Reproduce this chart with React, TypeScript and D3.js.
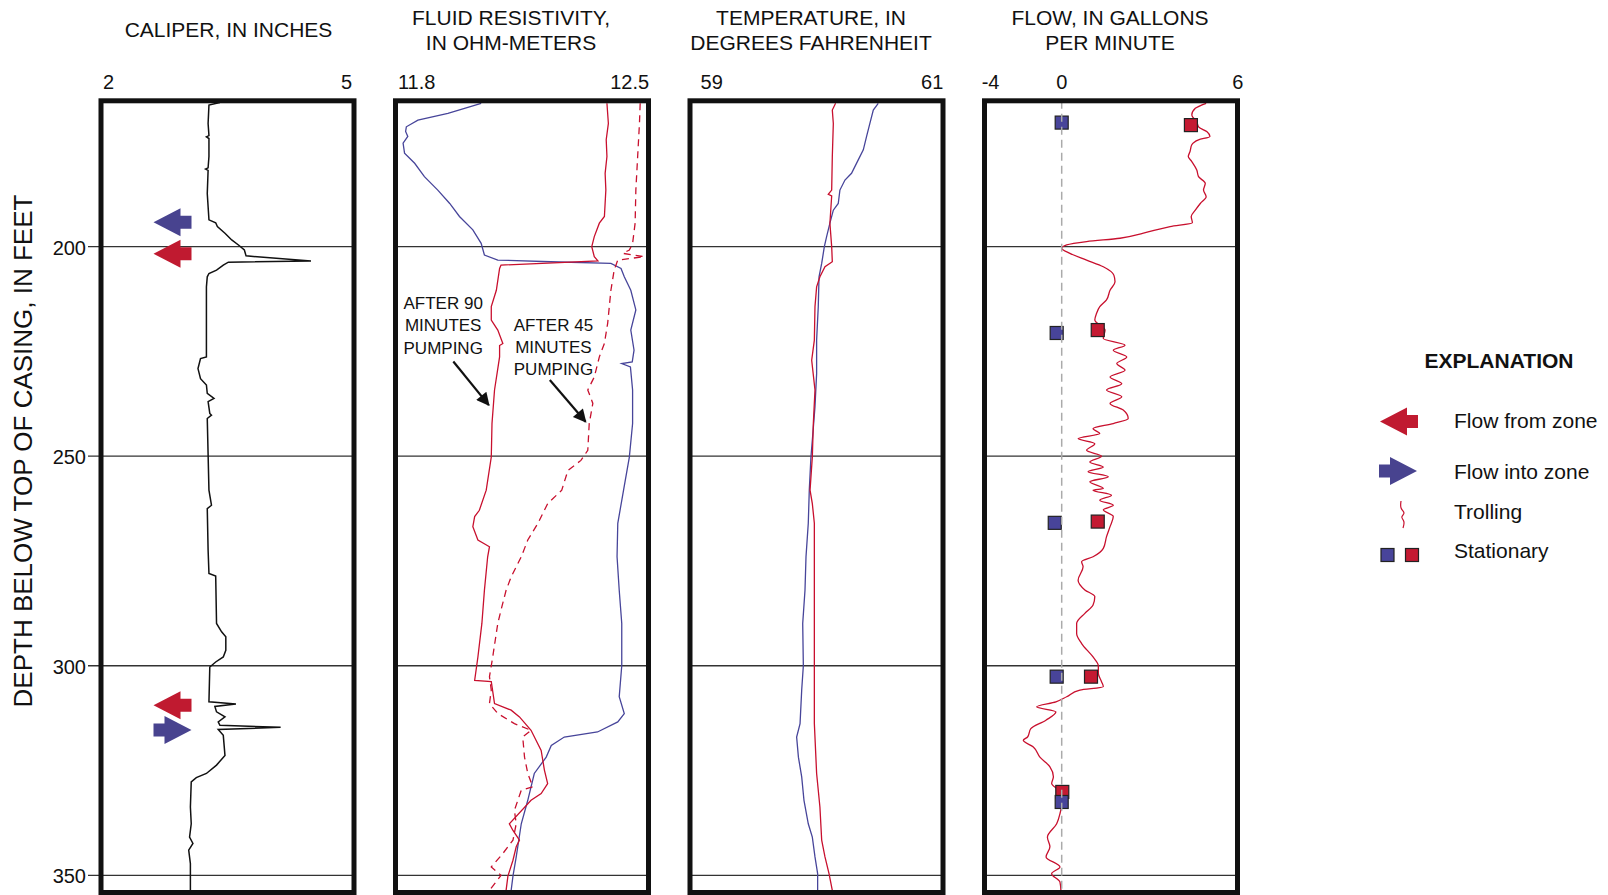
import React from 'react';
import * as d3 from 'd3';

const FONT = '"Liberation Sans", Arial, Helvetica, sans-serif';
const RED = '#c8102e';
const BLUE = '#47459a';
const INK = '#111';

// depth axis, in feet below top of casing
const depthDomain: [number, number] = [165.2, 354.1];
const depthTicks = [200, 250, 300, 350];

// [depth, inches]
const caliper: [number, number][] = [
	[165.6, 3.41], [166.2, 3.28], [170.6, 3.27], [173.5, 3.28], [173.8, 3.25], [174.2, 3.28],
	[178.5, 3.28], [181.2, 3.27], [181.5, 3.24], [181.8, 3.27], [187.3, 3.26], [193.6, 3.28],
	[194.3, 3.36], [195.2, 3.38], [196.8, 3.47], [198.4, 3.55], [199.6, 3.63], [200.8, 3.7],
	[202.2, 3.72], [203.4, 4.49], [203.7, 3.51], [204.4, 3.45], [205.6, 3.37], [206.4, 3.28],
	[207.2, 3.26], [209.6, 3.25], [226.3, 3.25], [226.7, 3.18], [229.1, 3.15], [231.5, 3.18],
	[233.0, 3.25], [235.0, 3.26], [236.2, 3.34], [237.0, 3.27], [239.8, 3.29], [240.2, 3.31],
	[241.0, 3.26], [258.1, 3.28], [261.7, 3.31], [262.5, 3.26], [272.4, 3.27], [278.0, 3.28],
	[278.6, 3.36], [289.9, 3.37], [291.9, 3.43], [293.1, 3.48], [296.3, 3.48], [297.9, 3.45],
	[299.1, 3.36], [300.3, 3.29], [308.6, 3.28], [309.1, 3.6], [309.7, 3.35], [311.0, 3.37],
	[312.2, 3.47], [313.4, 3.39], [314.2, 3.41], [314.7, 4.13], [315.2, 3.39], [316.6, 3.45],
	[321.4, 3.47], [323.7, 3.37], [325.7, 3.25], [326.7, 3.13], [327.7, 3.07], [333.7, 3.06],
	[337.7, 3.07], [340.9, 3.05], [342.4, 3.09], [344.0, 3.04], [347.2, 3.06], [353.6, 3.06],
];

// [depth, ohm-meters]
const resistivityAmbient: [number, number][] = [
	[165.8, 12.037], [168.2, 11.945], [169.8, 11.862], [171.4, 11.83], [172.5, 11.828],
	[173.7, 11.834], [175.3, 11.821], [177.7, 11.825], [180.1, 11.853], [183.3, 11.88],
	[186.5, 11.917], [189.7, 11.95], [192.8, 11.977], [196.0, 12.014], [199.2, 12.037],
	[202.0, 12.046], [203.2, 12.083], [203.6, 12.23], [204.0, 12.396], [205.2, 12.424],
	[207.2, 12.433], [210.4, 12.451], [215.1, 12.465], [219.9, 12.451], [224.7, 12.46],
	[227.5, 12.455], [227.9, 12.426], [228.7, 12.45], [234.2, 12.456], [242.2, 12.456],
	[250.2, 12.447], [258.1, 12.431], [266.0, 12.415], [274.0, 12.413], [282.0, 12.419],
	[289.9, 12.426], [300.0, 12.426], [307.4, 12.419], [311.4, 12.433], [313.4, 12.415],
	[315.8, 12.359], [317.0, 12.267], [319.0, 12.231], [321.8, 12.217], [325.7, 12.184],
	[332.1, 12.166], [337.7, 12.148], [345.6, 12.134], [350.2, 12.125], [353.6, 12.12],
];

const resistivity90: [number, number][] = [
	[165.8, 12.385], [170.6, 12.389], [174.5, 12.383], [178.5, 12.385], [182.5, 12.38],
	[186.5, 12.382], [192.8, 12.378], [194.4, 12.364], [197.6, 12.35], [200.0, 12.343],
	[202.4, 12.35], [203.4, 12.36], [204.4, 12.092], [205.2, 12.088], [210.4, 12.079],
	[214.3, 12.065], [217.5, 12.065], [219.9, 12.083], [223.1, 12.097], [223.6, 12.088],
	[226.3, 12.088], [234.2, 12.074], [242.2, 12.067], [250.2, 12.065], [258.1, 12.051],
	[262.9, 12.032], [264.4, 12.019], [266.8, 12.014], [270.0, 12.028], [271.6, 12.06],
	[274.0, 12.055], [282.0, 12.046], [289.9, 12.039], [297.9, 12.028], [303.5, 12.019],
	[303.8, 12.065], [309.0, 12.074], [310.6, 12.12], [312.2, 12.143], [315.4, 12.175],
	[320.2, 12.203], [324.9, 12.212], [328.1, 12.221], [330.5, 12.203], [332.1, 12.175],
	[337.7, 12.115], [339.3, 12.125], [341.6, 12.143], [343.2, 12.134], [346.4, 12.125],
	[350.2, 12.111], [353.6, 12.106],
];

const resistivity45: [number, number][] = [
	[165.8, 12.477], [170.6, 12.475], [178.5, 12.47], [186.5, 12.465], [194.4, 12.463],
	[199.2, 12.456], [200.8, 12.447], [201.6, 12.429], [202.4, 12.488], [203.2, 12.415],
	[205.6, 12.405], [210.4, 12.396], [218.3, 12.387], [223.1, 12.378], [226.3, 12.364],
	[231.1, 12.35], [234.2, 12.332], [237.4, 12.346], [242.2, 12.336], [248.6, 12.332],
	[251.0, 12.313], [253.4, 12.277], [258.1, 12.26], [261.3, 12.221], [266.0, 12.194],
	[270.0, 12.166], [274.0, 12.148], [278.8, 12.12], [282.0, 12.106], [286.7, 12.092],
	[289.9, 12.083], [297.9, 12.069], [302.6, 12.06], [305.8, 12.065], [309.0, 12.06],
	[311.4, 12.083], [313.8, 12.129], [315.4, 12.175], [317.0, 12.152], [321.8, 12.157],
	[325.7, 12.166], [328.9, 12.18], [329.7, 12.148], [334.5, 12.129], [337.7, 12.134],
	[341.6, 12.125], [344.8, 12.097], [348.0, 12.065], [350.0, 12.092], [353.6, 12.06],
];

// [depth, degrees F]
const temperatureAmbient: [number, number][] = [
	[165.8, 60.488], [167.4, 60.449], [170.6, 60.422], [173.7, 60.396], [176.9, 60.37],
	[179.3, 60.33], [182.5, 60.277], [184.1, 60.225], [186.5, 60.185], [189.7, 60.172],
	[191.3, 60.133], [194.4, 60.106], [197.6, 60.08], [200.0, 60.062], [204.0, 60.041],
	[207.2, 60.02], [214.3, 60.014], [222.3, 60.001], [230.3, 60.001], [238.2, 59.988],
	[246.2, 59.967], [250.2, 59.956], [258.1, 59.943], [266.0, 59.935], [274.0, 59.917],
	[282.0, 59.909], [289.9, 59.891], [300.0, 59.896], [305.8, 59.883], [313.8, 59.87],
	[317.0, 59.843], [321.8, 59.857], [326.5, 59.883], [332.1, 59.901], [337.7, 59.935],
	[340.9, 59.967], [345.6, 59.988], [349.6, 60.009], [353.6, 60.009],
];

const temperaturePumped: [number, number][] = [
	[165.8, 60.151], [167.4, 60.125], [170.6, 60.133], [178.5, 60.125], [186.5, 60.12],
	[187.5, 60.093], [187.9, 60.12], [194.4, 60.106], [200.0, 60.12], [203.6, 60.125],
	[204.8, 60.067], [207.2, 60.027], [209.6, 60.001], [214.3, 59.988], [222.3, 59.983],
	[227.1, 59.962], [234.2, 59.988], [242.2, 59.975], [250.2, 59.967], [258.1, 59.949],
	[261.3, 59.967], [266.0, 59.983], [282.0, 59.983], [300.0, 59.983], [313.8, 59.983],
	[325.7, 60.001], [333.7, 60.027], [341.6, 60.041], [345.6, 60.067], [349.6, 60.099],
	[353.6, 60.125],
];

// [depth, gallons per minute]
const flowTrolling: [number, number][] = [
	[165.8, 4.93], [167.0, 4.56], [168.6, 4.44], [170.2, 4.61], [171.4, 4.67], [172.6, 4.96],
	[173.7, 5.06], [174.5, 4.67], [175.7, 4.44], [177.3, 4.38], [178.5, 4.32], [179.7, 4.44],
	[181.7, 4.61], [183.3, 4.67], [184.9, 4.9], [186.5, 4.84], [188.1, 4.93], [189.7, 4.73],
	[191.3, 4.56], [192.8, 4.42], [194.3, 4.46], [195.2, 3.7], [196.8, 2.79], [198.0, 1.99],
	[198.8, 0.85], [199.6, 0.17], [200.4, 0], [201.6, 0.28], [203.2, 0.85], [204.8, 1.42],
	[206.8, 1.78], [208.4, 1.82], [210.4, 1.65], [212.7, 1.53], [214.3, 1.3], [215.9, 1.19],
	[217.5, 1.13], [219.9, 1.48], [221.9, 1.42], [223.5, 2.16], [224.7, 1.76], [226.3, 2.22],
	[227.9, 1.88], [229.5, 2.16], [231.1, 1.65], [232.7, 2.05], [234.2, 1.53], [235.8, 2.05],
	[237.4, 1.65], [239.0, 2.1], [241.0, 2.27], [242.2, 1.76], [243.4, 1.07], [244.6, 1.3],
	[245.8, 0.56], [247.0, 1.13], [248.6, 0.85], [250.0, 1.36], [251.4, 0.96], [252.6, 1.42],
	[253.7, 0.9], [254.9, 1.59], [256.1, 0.96], [257.7, 1.42], [258.1, 1.07], [259.3, 1.7],
	[260.5, 1.3], [261.7, 1.76], [262.8, 1.42], [264.4, 1.76], [266.8, 1.65], [269.2, 1.53],
	[272.0, 1.42], [274.0, 1.07], [275.2, 0.68], [276.4, 0.73], [279.6, 0.56], [281.9, 0.79],
	[283.5, 1.13], [285.5, 1.07], [287.5, 0.79], [289.9, 0.51], [292.3, 0.51], [294.7, 0.68],
	[297.9, 1.07], [300.0, 1.25], [301.8, 1.25], [303.8, 1.36], [305.0, 1.42], [305.8, 0.62],
	[307.4, 0.17], [308.6, -0.3], [309.8, -1.3], [311.0, -0.3], [313.0, -0.82], [315.0, -1.6],
	[317.0, -1.77], [317.8, -1.99], [319.4, -1.47], [321.8, -1.13], [324.1, -0.61],
	[326.5, -0.43], [328.1, -0.52], [329.7, -0.17], [332.9, 0], [335.3, -0.09], [337.7, -0.26],
	[340.9, -0.74], [343.2, -0.61], [345.6, -0.81], [348.0, -0.09], [349.6, -0.52],
	[351.6, -0.09], [353.6, -0.04],
];

const stationaryPumped: [number, number][] = [
	[171.0, 4.41], [219.9, 1.23], [265.6, 1.23], [302.6, 1.0], [330.1, 0.02],
];
const stationaryAmbient: [number, number][] = [
	[170.4, 0], [220.6, -0.26], [265.9, -0.36], [302.6, -0.26], [332.5, 0],
];

// arrows beside the caliper log
const flowArrows = [
	{ depth: 194.2, kind: 'into', dir: 'left' },
	{ depth: 201.7, kind: 'from', dir: 'left' },
	{ depth: 309.4, kind: 'from', dir: 'left' },
	{ depth: 315.3, kind: 'into', dir: 'right' },
];

const caliperTicks = [2, 5];
const resistivityTicks = [11.8, 12.5];
const temperatureTicks = [59, 61];
const flowTicks = [-4, 0, 6];

const W = 1608;
const H = 895;
const top = 100.8;
const bottom = 892.5;
const panelW = 253;
const left = (i: number) => 101 + i * 294.5;

const y = d3.scaleLinear().domain(depthDomain).range([top, bottom]);

const xCal = d3.scaleLinear().domain([2, 5]).range([left(0), left(0) + panelW]);
const xRes = d3.scaleLinear().domain([11.8, 12.5]).range([left(1), left(1) + panelW]);
const xTemp = d3.scaleLinear().domain([59, 61]).range([left(2), left(2) + panelW]);
const xFlow = d3
	.scaleLinear()
	.domain([-4, 0, 6])
	.range([left(3), left(3) + 77.2, left(3) + panelW]);

const panels = [
	{ title: ['CALIPER, IN INCHES'], x: xCal, ticks: caliperTicks, dx: 1, nudge: [2, -2] },
	{ title: ['FLUID RESISTIVITY,', 'IN OHM-METERS'], x: xRes, ticks: resistivityTicks, dx: -11, nudge: [2.4, 0.7] },
	{ title: ['TEMPERATURE, IN', 'DEGREES FAHRENHEIT'], x: xTemp, ticks: temperatureTicks, dx: -5.5, nudge: [10.6, 0.3] },
	{ title: ['FLOW, IN GALLONS', 'PER MINUTE'], x: xFlow, ticks: flowTicks, dx: -1, nudge: [-2.8, 5.9] },
];

// arrow glyph pointing left, tip at origin
const arrowPath = 'M0,0 L27,-14 L27,-6.5 L38,-6.5 L38,6.5 L27,6.5 L27,14 Z';

const Arrow = ({ x, y: cy, kind, dir }: { x: number; y: number; kind: string; dir: string }) => (
	<path
		d={arrowPath}
		fill={kind === 'from' ? '#c01a30' : '#48438f'}
		transform={dir === 'left' ? `translate(${x},${cy})` : `translate(${x + 38},${cy}) scale(-1,1)`}
	/>
);

const trace = (data: [number, number][], x: d3.ScaleLinear<number, number>, curve = d3.curveLinear) =>
	d3
		.line<[number, number]>()
		.x((d) => x(d[1]))
		.y((d) => y(d[0]))
		.curve(curve)(data) ?? '';

const App = () => {
	const zeroX = xFlow(0);
	const sq = 13;

	return (
		<svg
			width={W}
			height={H}
			style={{ position: 'absolute', left: 0, top: 0, background: '#fff' }}
			fontFamily={FONT}>
			<defs>
				{panels.map((p, i) => (
					<clipPath id={`clip${i}`} key={i}>
						<rect x={left(i)} y={top} width={panelW} height={bottom - top} />
					</clipPath>
				))}
				<marker id="head" viewBox="0 0 10 10" refX="9" refY="5" markerWidth="7" markerHeight="6" orient="auto">
					<path d="M0,0 L10,5 L0,10 Z" fill={INK} />
				</marker>
			</defs>

			{/* titles and tick labels */}
			{panels.map((p, i) => {
				const cx = left(i) + panelW / 2 + p.dx;
				return (
					<g key={`t${i}`} fill={INK}>
						{p.title.length === 1 ? (
							<text x={cx} y={29} fontSize={21} textAnchor="middle" dominantBaseline="central">
								{p.title[0]}
							</text>
						) : (
							p.title.map((t, j) => (
								<text key={j} x={cx} y={17.5 + j * 24.6} fontSize={21} textAnchor="middle" dominantBaseline="central">
									{t}
								</text>
							))
						)}
						{p.ticks.map((v, j) => {
							const last = j === p.ticks.length - 1;
							const anchor = j === 0 ? 'start' : last ? 'end' : 'middle';
							const off = j === 0 ? p.nudge[0] : last ? p.nudge[1] : 0;
							return (
								<text key={v} x={p.x(v) + off} y={82} fontSize={20} textAnchor={anchor} dominantBaseline="central">
									{String(v)}
								</text>
							);
						})}
					</g>
				);
			})}

			{/* depth axis */}
			<text
				transform={`translate(23,451) rotate(-90)`}
				fontSize={26}
				textAnchor="middle"
				dominantBaseline="central"
				fill={INK}>
				DEPTH BELOW TOP OF CASING, IN FEET
			</text>
			{depthTicks.map((d) => (
				<text key={d} x={86} y={y(d) + 1} fontSize={20} textAnchor="end" dominantBaseline="central" fill={INK}>
					{d}
				</text>
			))}

			{/* grid lines */}
			{panels.map((p, i) =>
				depthTicks.map((d) => (
					<line
						key={`g${i}-${d}`}
						x1={i === 0 ? 88 : left(i)}
						x2={left(i) + panelW}
						y1={y(d)}
						y2={y(d)}
						stroke="#333"
						strokeWidth={1.3}
					/>
				)),
			)}

			{/* caliper */}
			<g clipPath="url(#clip0)">
				<path d={trace(caliper, xCal)} fill="none" stroke={INK} strokeWidth={1.5} />
			</g>
			{flowArrows.map((a, k) => (
				<Arrow key={k} x={left(0) + 52.5} y={y(a.depth)} kind={a.kind} dir={a.dir} />
			))}

			{/* fluid resistivity */}
			<g clipPath="url(#clip1)" fill="none" strokeWidth={1.3}>
				<path d={trace(resistivityAmbient, xRes)} stroke={BLUE} />
				<path d={trace(resistivity45, xRes)} stroke={RED} strokeDasharray="7 5" />
				<path d={trace(resistivity90, xRes)} stroke={RED} />
			</g>
			<g fill={INK} fontSize={17} textAnchor="middle">
				{['AFTER 90', 'MINUTES', 'PUMPING'].map((t, j) => (
					<text key={t} x={xRes(11.932)} y={y(213.5) + j * 22.5} dominantBaseline="central">
						{t}
					</text>
				))}
				{['AFTER 45', 'MINUTES', 'PUMPING'].map((t, j) => (
					<text key={t} x={xRes(12.237)} y={y(218.7) + j * 22.3} dominantBaseline="central">
						{t}
					</text>
				))}
			</g>
			<line x1={xRes(11.96)} y1={y(227.4)} x2={xRes(12.058)} y2={y(237.8)} stroke={INK} strokeWidth={2.2} markerEnd="url(#head)" />
			<line x1={xRes(12.227)} y1={y(231.8)} x2={xRes(12.326)} y2={y(241.8)} stroke={INK} strokeWidth={2.2} markerEnd="url(#head)" />

			{/* temperature */}
			<g clipPath="url(#clip2)" fill="none" strokeWidth={1.3}>
				<path d={trace(temperatureAmbient, xTemp)} stroke={BLUE} />
				<path d={trace(temperaturePumped, xTemp)} stroke={RED} />
			</g>

			{/* flow */}
			<g clipPath="url(#clip3)">
				<path d={trace(flowTrolling, xFlow, d3.curveMonotoneY)} fill="none" stroke={RED} strokeWidth={1.3} />
				{stationaryPumped.map(([d, v], k) => (
					<rect key={`r${k}`} x={xFlow(v) - sq / 2} y={y(d) - sq / 2} width={sq} height={sq} fill="#c41a32" stroke="#222" strokeWidth={1.2} />
				))}
				{stationaryAmbient.map(([d, v], k) => (
					<rect key={`b${k}`} x={xFlow(v) - sq / 2} y={y(d) - sq / 2} width={sq} height={sq} fill="#48449a" stroke="#222" strokeWidth={1.2} />
				))}
				<line x1={zeroX} x2={zeroX} y1={top} y2={bottom} stroke="#aaa" strokeWidth={1.5} strokeDasharray="8 5" />
			</g>

			{/* panel frames */}
			{panels.map((p, i) => (
				<rect key={`f${i}`} x={left(i)} y={top} width={panelW} height={bottom - top} fill="none" stroke={INK} strokeWidth={5} />
			))}

			{/* explanation */}
			<g fill={INK}>
				<text x={1499} y={360} fontSize={21} fontWeight="bold" textAnchor="middle" dominantBaseline="central">
					EXPLANATION
				</text>
				<Arrow x={1380} y={421.5} kind="from" dir="left" />
				<text x={1454} y={420} fontSize={21} dominantBaseline="central">Flow from zone</text>
				<Arrow x={1379} y={471} kind="into" dir="right" />
				<text x={1454} y={471.5} fontSize={21} dominantBaseline="central">Flow into zone</text>
				<path
					d={
						d3.line().curve(d3.curveBasis)([
							[1401, 501],
							[1400, 509],
							[1406, 513],
							[1400, 517],
							[1405, 521],
							[1403, 528],
						]) ?? ''
					}
					fill="none"
					stroke={RED}
					strokeWidth={1.2}
				/>
				<text x={1454} y={511.5} fontSize={21} dominantBaseline="central">Trolling</text>
				<rect x={1381} y={548.5} width={sq} height={sq} fill="#48449a" stroke="#222" strokeWidth={1.2} />
				<rect x={1405.5} y={548.5} width={sq} height={sq} fill="#c41a32" stroke="#222" strokeWidth={1.2} />
				<text x={1454} y={550.5} fontSize={21} dominantBaseline="central">Stationary</text>
			</g>
		</svg>
	);
};

export default App;
